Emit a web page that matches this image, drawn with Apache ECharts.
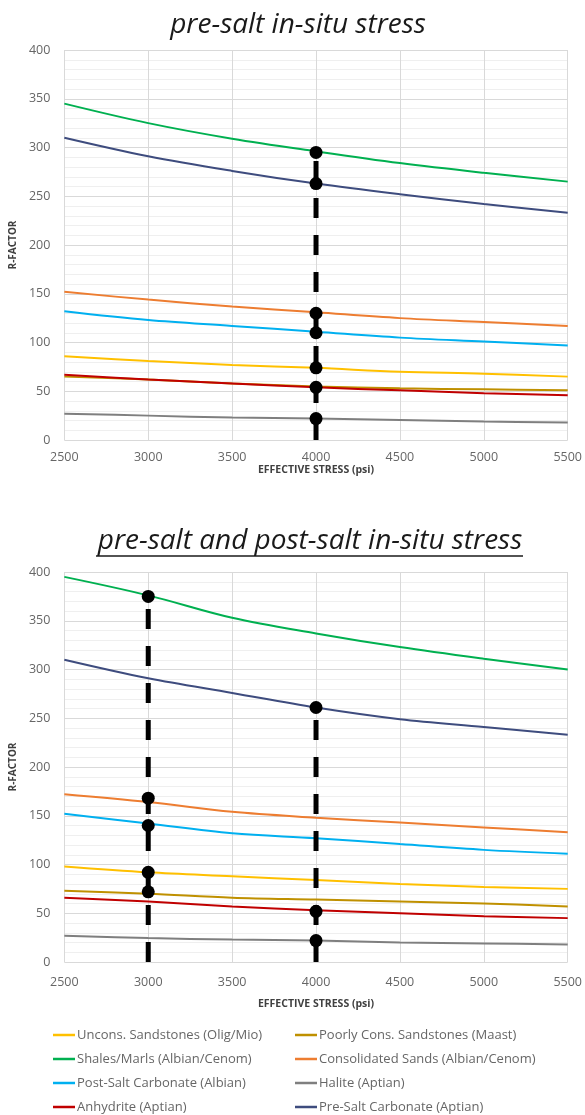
<!DOCTYPE html>
<html>
<head>
<meta charset="utf-8">
<script src="https://cdn.jsdelivr.net/npm/echarts@6/dist/echarts.min.js"></script>
<style>
  html,body{margin:0;padding:0;background:#fff;}
  #chart{width:585px;height:1115px;}
</style>
</head>
<body>
<div id="chart"></div>
<script>
// effective stress (psi)
var stress = [2500, 3000, 3500, 4000, 4500, 5000, 5500];

var names = [
  "Uncons. Sandstones (Olig/Mio)",
  "Poorly Cons. Sandstones (Maast)",
  "Shales/Marls (Albian/Cenom)",
  "Consolidated Sands (Albian/Cenom)",
  "Post-Salt Carbonate (Albian)",
  "Halite (Aptian)",
  "Anhydrite (Aptian)",
  "Pre-Salt Carbonate (Aptian)"
];
var colors = ["#FFC000", "#BF9000", "#00B050", "#ED7D31", "#00B0F0", "#7F7F7F", "#C00000", "#3E4C7E"];

// pre-salt in-situ stress
var preUncons    = [86, 81, 77, 74, 70, 68, 65];
var prePoorly    = [65, 62, 58, 55, 53, 52, 51];
var preShales    = [345, 325, 309, 296, 284, 274, 265];
var preConsol    = [152, 144, 137, 131, 125, 121, 117];
var prePostCarb  = [132, 123, 117, 111, 105, 101, 97];
var preHalite    = [27, 25, 23, 22, 20.5, 19, 18];
var preAnhydrite = [67, 62, 58, 54, 51, 48, 46];
var prePreCarb   = [310, 291, 276, 263, 252, 242, 233];
var preMarks4000 = [295, 263, 130, 110, 74, 54, 22];

// pre-salt and post-salt in-situ stress
var bothUncons    = [98, 92, 88, 84, 80, 77, 75];
var bothPoorly    = [73, 70, 66, 64, 62, 60, 57];
var bothShales    = [395, 376, 353, 337, 323, 311, 300];
var bothConsol    = [172, 164, 154, 148, 143, 138, 133];
var bothPostCarb  = [152, 142, 132, 127, 121, 115, 111];
var bothHalite    = [27, 24.5, 23, 22, 20, 19, 18];
var bothAnhydrite = [66, 62, 57, 53, 50, 47, 45];
var bothPreCarb   = [310, 291, 276, 261, 249, 241, 233];
var bothMarks3000 = [375, 168, 140, 92, 72];
var bothMarks4000 = [261, 52, 22];

var preSets  = [preUncons, prePoorly, preShales, preConsol, prePostCarb, preHalite, preAnhydrite, prePreCarb];
var bothSets = [bothUncons, bothPoorly, bothShales, bothConsol, bothPostCarb, bothHalite, bothAnhydrite, bothPreCarb];

var font = "'Open Sans', 'Noto Sans', sans-serif";

function pairs(vals){
  return stress.map(function(x, i){ return [x, vals[i]]; });
}

function xAx(idx, labelGap, nameGap){
  return {
    gridIndex: idx, type: "value", min: 2500, max: 5500, interval: 500,
    axisLine: {show: false}, axisTick: {show: false},
    axisLabel: {color: "#666", fontSize: 12.5, fontFamily: font, margin: labelGap,
      formatter: function(v){ return String(v); }},
    splitLine: {show: true, lineStyle: {color: "#D9D9D9", width: 1}},
    name: "EFFECTIVE STRESS (psi)", nameLocation: "middle", nameGap: nameGap,
    nameTextStyle: {color: "#404040", fontSize: 10.5, fontWeight: "bold", fontFamily: font}
  };
}
function yAx(idx){
  return {
    gridIndex: idx, type: "value", min: 0, max: 400, interval: 50,
    axisLine: {show: false}, axisTick: {show: false},
    axisLabel: {color: "#666", fontSize: 12.5, fontFamily: font, margin: 14},
    splitLine: {show: true, lineStyle: {color: "#D9D9D9", width: 1}},
    minorTick: {show: false, splitNumber: 5},
    minorSplitLine: {show: true, lineStyle: {color: "#EFEFEF", width: 1}},
    name: "R-FACTOR", nameLocation: "middle", nameGap: 40,
    nameTextStyle: {color: "#404040", fontSize: 10, fontWeight: "bold", fontFamily: font}
  };
}

var series = [];
function addLines(sets, idx){
  sets.forEach(function(vals, k){
    series.push({
      name: names[k], type: "line", xAxisIndex: idx, yAxisIndex: idx,
      data: pairs(vals), smooth: 0.35, symbol: "none",
      lineStyle: {color: colors[k], width: 2}, itemStyle: {color: colors[k]}, z: 2
    });
  });
}
function addPick(x, vals, idx){
  var top = Math.max.apply(null, vals);
  series.push({
    type: "line", xAxisIndex: idx, yAxisIndex: idx, symbol: "none", z: 5,
    data: [[x, 0], [x, top]],
    lineStyle: {color: "#000", width: 5, type: [20, 17]}, silent: true
  });
  series.push({
    type: "scatter", xAxisIndex: idx, yAxisIndex: idx, symbol: "circle", symbolSize: 13, z: 6,
    data: vals.map(function(v){ return [x, v]; }),
    itemStyle: {color: "#000", opacity: 1}, silent: true
  });
}

addLines(preSets, 0);
addLines(bothSets, 1);
addPick(4000, preMarks4000, 0);
addPick(3000, bothMarks3000, 1);
addPick(4000, bothMarks4000, 1);

function legendCol(left, list){
  return {
    orient: "vertical", left: left, top: 1028, itemGap: 10, padding: 0,
    icon: "rect", itemWidth: 22, itemHeight: 2.5,
    selectedMode: false, data: list,
    textStyle: {color: "#666", fontSize: 13, lineHeight: 14, fontFamily: font, padding: [0, 0, 0, -3]}
  };
}

var chart = echarts.init(document.getElementById("chart"));
chart.setOption({
  animation: false,
  backgroundColor: "#fff",
  grid: [
    {left: 60, right: 17, top: 50, height: 390},
    {left: 60, right: 17, top: 572, height: 390}
  ],
  xAxis: [xAx(0, 11, 25), xAx(1, 14, 37)],
  yAxis: [yAx(0), yAx(1)],
  legend: [
    legendCol(53, [names[0], names[2], names[4], names[6]]),
    legendCol(295, [names[1], names[3], names[5], names[7]])
  ],
  graphic: [
    {type: "text", x: 298, y: 25, style: {text: "pre-salt in-situ stress", fill: "#1a1a1a",
      font: "italic 28px " + font, align: "center", verticalAlign: "middle"}},
    {type: "text", x: 310, y: 541, style: {text: "pre-salt and post-salt in-situ stress", fill: "#1a1a1a",
      font: "italic 28px " + font, align: "center", verticalAlign: "middle"}},
    {type: "line", shape: {x1: 96, y1: 556, x2: 523, y2: 556}, style: {stroke: "#1a1a1a", lineWidth: 1.5}}
  ],
  series: series
});
</script>
</body>
</html>
